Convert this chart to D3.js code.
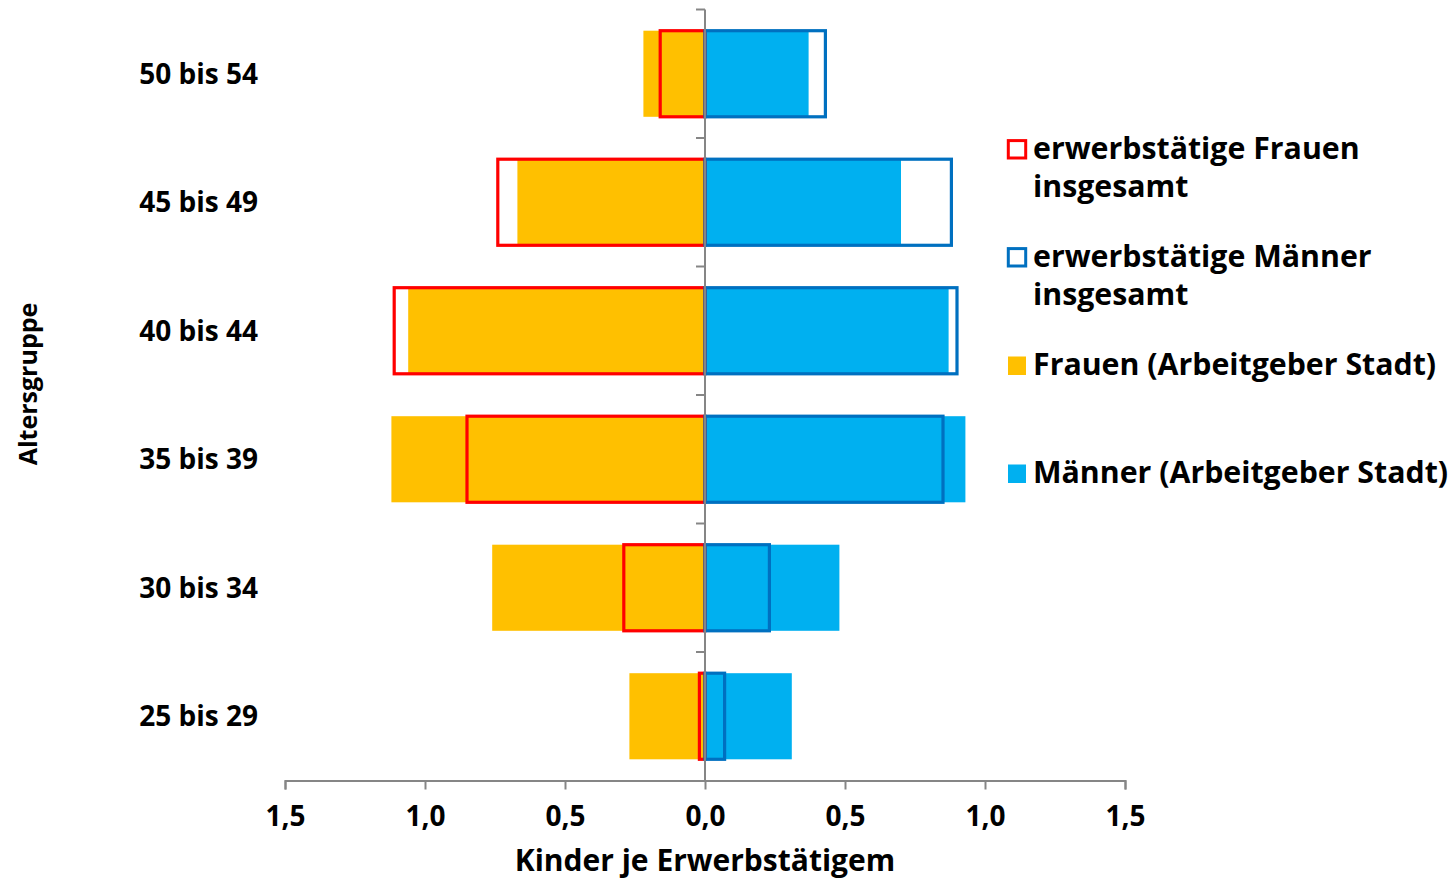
<!DOCTYPE html>
<html>
<head>
<meta charset="utf-8">
<script src="https://cdn.jsdelivr.net/npm/d3@7"></script>
<style>
  html, body { margin: 0; padding: 0; background: #fff; }
  svg { display: block; font-family: "Open Sans", "DejaVu Sans", sans-serif; font-weight: 700; }
</style>
</head>
<body>
<svg id="chart" width="1454" height="880"></svg>
<script>
// Altersgruppen (von unten nach oben)
const categories = ["25 bis 29", "30 bis 34", "35 bis 39", "40 bis 44", "45 bis 49", "50 bis 54"];
// Kinder je Erwerbstätigem
const frauenStadt   = [0.27, 0.76, 1.12, 1.06, 0.67, 0.22];
const maennerStadt  = [0.31, 0.48, 0.93, 0.87, 0.70, 0.37];
const frauenGesamt  = [0.02, 0.29, 0.85, 1.11, 0.74, 0.16];
const maennerGesamt = [0.07, 0.23, 0.85, 0.90, 0.88, 0.43];
const xTicks = [-1.5, -1.0, -0.5, 0, 0.5, 1.0, 1.5];

const legendItems = [
  { lines: ["erwerbstätige Frauen", "insgesamt"], kind: "outline", color: "#FF0000" },
  { lines: ["erwerbstätige Männer", "insgesamt"], kind: "outline", color: "#0070C0" },
  { lines: ["Frauen (Arbeitgeber Stadt)"], kind: "fill", color: "#FFC000" },
  { lines: ["Männer (Arbeitgeber Stadt)"], kind: "fill", color: "#00B0F0" }
];

const svg = d3.select("#chart");
const axisColor = "#868686";

const x = d3.scaleLinear().domain([-1.5, 1.5]).range([285, 1125]);
const y = d3.scaleBand()
  .domain(categories.slice().reverse())
  .range([9.5, 780.5])
  .paddingInner(0.33)
  .paddingOuter(0.165);

const rows = categories.map((c, i) => ({
  cat: c, fs: frauenStadt[i], ms: maennerStadt[i], fg: frauenGesamt[i], mg: maennerGesamt[i]
}));

// Gefüllte Balken: Beschäftigte der Stadt
const fills = svg.append("g");
fills.selectAll(".fs").data(rows).join("rect")
  .attr("x", d => x(-d.fs)).attr("width", d => x(0) - x(-d.fs))
  .attr("y", d => y(d.cat)).attr("height", y.bandwidth())
  .attr("fill", "#FFC000");
fills.selectAll(".ms").data(rows).join("rect")
  .attr("x", x(0)).attr("width", d => x(d.ms) - x(0))
  .attr("y", d => y(d.cat)).attr("height", y.bandwidth())
  .attr("fill", "#00B0F0");

// Umrandete Balken: alle Erwerbstätigen
const outlines = svg.append("g").attr("fill", "none").attr("stroke-width", 3.2);
outlines.selectAll(".fg").data(rows).join("rect")
  .attr("x", d => x(-d.fg)).attr("width", d => x(0) - x(-d.fg))
  .attr("y", d => y(d.cat)).attr("height", y.bandwidth())
  .attr("stroke", "#FF0000");
outlines.selectAll(".mg").data(rows).join("rect")
  .attr("x", x(0)).attr("width", d => x(d.mg) - x(0))
  .attr("y", d => y(d.cat)).attr("height", y.bandwidth())
  .attr("stroke", "#0070C0");

// X-Achse
const fmt = v => d3.format(".1f")(Math.abs(v)).replace(".", ",");
const xAxis = svg.append("g")
  .attr("transform", `translate(0,${y.range()[1]})`)
  .call(d3.axisBottom(x).tickValues(xTicks).tickFormat(fmt).tickSize(9).tickSizeOuter(9).tickPadding(17));
xAxis.select(".domain").attr("stroke", axisColor).attr("stroke-width", 2);
xAxis.selectAll(".tick line").attr("stroke", axisColor).attr("stroke-width", 2);
xAxis.selectAll(".tick text")
  .attr("fill", "#000").attr("font-size", 28).attr("font-weight", 700)
  .attr("font-family", "'Open Sans', sans-serif");

// Mittelachse mit Trennstrichen zwischen den Altersgruppen
const step = y.step();
const y0 = y.range()[0];
const boundaries = d3.range(categories.length).map(i => y0 + i * step);
const mid = svg.append("g");
mid.selectAll("line.b").data(boundaries).join("line")
  .attr("x1", x(0) - 9).attr("x2", x(0))
  .attr("y1", d => d).attr("y2", d => d)
  .attr("stroke", axisColor).attr("stroke-width", 2);
mid.append("line")
  .attr("x1", x(0)).attr("x2", x(0))
  .attr("y1", y0).attr("y2", y.range()[1])
  .attr("stroke", axisColor).attr("stroke-width", 2);

// Kategorienbeschriftung
svg.append("g").selectAll("text").data(categories).join("text")
  .attr("x", 258).attr("y", d => y(d) + y.bandwidth() / 2)
  .attr("dy", "0.35em").attr("text-anchor", "end")
  .attr("font-size", 28).text(d => d);

// Achsentitel
svg.append("text")
  .attr("x", x(0)).attr("y", 871).attr("text-anchor", "middle")
  .attr("font-size", 30).text("Kinder je Erwerbstätigem");
svg.append("text")
  .attr("transform", `translate(37,${(y0 + y.range()[1]) / 2 - 11}) rotate(-90)`)
  .attr("text-anchor", "middle")
  .attr("font-size", 25).text("Altersgruppe");

// Legende
const legendTops = [159, 267, 375, 483];
const lg = svg.append("g");
legendItems.forEach((it, i) => {
  const base = legendTops[i];
  if (it.kind === "outline") {
    lg.append("rect").attr("x", 1008.3).attr("y", base - 18.4).attr("width", 17.4).attr("height", 17.4)
      .attr("fill", "none").attr("stroke", it.color).attr("stroke-width", 3);
  } else {
    lg.append("rect").attr("x", 1008).attr("y", base - 18.5).attr("width", 18).attr("height", 18.5)
      .attr("fill", it.color);
  }
  it.lines.forEach((ln, j) => {
    lg.append("text").attr("x", 1033).attr("y", base + j * 37.5)
      .attr("font-size", 30.3).text(ln);
  });
});
</script>
</body>
</html>
